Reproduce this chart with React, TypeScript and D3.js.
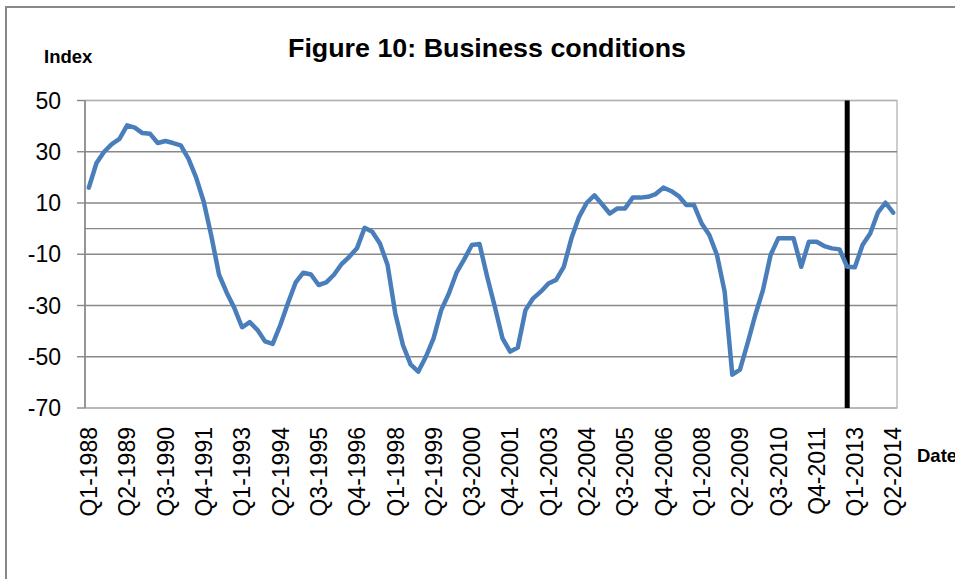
import React from "react";
import * as d3 from "d3";

const title = "Figure 10: Business conditions";
const yAxisTitle = "Index";
const xAxisTitle = "Date";

const startYear = 1988;
const quarterCount = 106;
const categories: string[] = [];
for (let i = 0; i < quarterCount; i++) {
  categories.push(`Q${(i % 4) + 1}-${startYear + Math.floor(i / 4)}`);
}

const values: number[] = [
  16, 25.6, 30, 33, 35, 40.3, 39.4, 37.3, 37, 33.4,
  34.2, 33.4, 32.5, 27.3, 20, 10.5, -3, -18, -25, -31,
  -38.5, -36.5, -39.5, -44, -45, -37.6, -29, -21, -17.2, -17.9,
  -22, -21, -18, -13.8, -11, -7.7, 0.3, -1.2, -5.8, -14.2,
  -33, -45.4, -53, -55.8, -50, -42.8, -31.8, -25.3, -17.2, -12,
  -6.4, -6, -18.8, -30.5, -42.8, -48, -46.4, -31.8, -27.2, -24.6,
  -21.4, -20, -14.9, -3.8, 4.6, 10.1, 13, 9.5, 5.9, 7.9,
  7.9, 12.1, 12.1, 12.4, 13.5, 16, 14.7, 12.7, 9.2, 9.2,
  2, -2.5, -10.3, -24.6, -57, -55, -44.7, -33.7, -24, -10.3,
  -3.8, -3.8, -3.8, -14.9, -5.1, -5.1, -6.8, -7.7, -8.1, -14.9,
  -15.1, -6.4, -1.9, 6.2, 10.1, 6.2,
];

const tickLabels: string[] = [
  "Q1-1988", "Q2-1989", "Q3-1990", "Q4-1991", "Q1-1993", "Q2-1994",
  "Q3-1995", "Q4-1996", "Q1-1998", "Q2-1999", "Q3-2000", "Q4-2001",
  "Q1-2003", "Q2-2004", "Q3-2005", "Q4-2006", "Q1-2008", "Q2-2009",
  "Q3-2010", "Q4-2011", "Q1-2013", "Q2-2014",
];

const yTicks: number[] = [50, 30, 10, -10, -30, -50, -70];
const markerCategory = "Q4-2012";

export default function App() {
  const W = 955;
  const H = 579;
  const left = 85;
  const right = 897;
  const top = 100.5;
  const bottom = 408;

  const x = d3.scaleBand<string>().domain(categories).range([left, right]).padding(0);
  const cx = (c: string) => (x(c) as number) + x.bandwidth() / 2;
  const y = d3.scaleLinear().domain([-70, 50]).range([bottom, top]);

  const line = d3
    .line<number>()
    .x((_, i) => cx(categories[i]))
    .y((d) => y(d));

  const font = "'Liberation Sans', Arial, sans-serif";

  return (
    <svg
      width={W}
      height={H}
      style={{ position: "absolute", left: 0, top: 0, display: "block", background: "#fff" }}
    >
      <rect x={6} y={7} width={1000} height={1000} fill="#fff" stroke="#888" strokeWidth={2} />
      <text
        x={487}
        y={57}
        textAnchor="middle"
        fontFamily={font}
        fontWeight="bold"
        fontSize={26}
        textLength={398}
        lengthAdjust="spacingAndGlyphs"
        fill="#000"
      >
        {title}
      </text>
      <text x={44} y={63} fontFamily={font} fontWeight="bold" fontSize={18.5} fill="#000">
        {yAxisTitle}
      </text>
      <text x={917} y={462} fontFamily={font} fontWeight="bold" fontSize={18.5} fill="#000">
        {xAxisTitle}
      </text>

      {/* plot border */}
      <rect x={left} y={top} width={right - left} height={bottom - top} fill="none" stroke="#b3b3b3" strokeWidth={1.3} />

      {/* gridlines */}
      {yTicks.map((t) => (
        <line key={"g" + t} x1={left} x2={right} y1={y(t)} y2={y(t)} stroke={t === 50 || t === -70 ? "#b3b3b3" : "#888"} strokeWidth={1.4} />
      ))}
      {/* zero axis */}
      <line x1={left} x2={right} y1={y(0)} y2={y(0)} stroke="#888" strokeWidth={1.4} />

      {/* y axis */}
      <line x1={left} x2={left} y1={top} y2={bottom} stroke="#888" strokeWidth={1.6} />
      {yTicks.map((t) => (
        <g key={"t" + t}>
          <line x1={left - 8} x2={left} y1={y(t)} y2={y(t)} stroke="#888" strokeWidth={1.4} />
          <text
            x={61}
            y={y(t)}
            dy="0.35em"
            textAnchor="end"
            fontFamily={font}
            fontSize={23}
            fill="#000"
          >
            {t}
          </text>
        </g>
      ))}

      {/* x labels */}
      {tickLabels.map((lab) => (
        <text
          key={lab}
          transform={`translate(${cx(lab)},427) rotate(-90)`}
          dy="0.36em"
          textAnchor="end"
          fontFamily={font}
          fontSize={23}
          fill="#000"
        >
          {lab}
        </text>
      ))}

      {/* marker line */}
      <line
        x1={cx(markerCategory)}
        x2={cx(markerCategory)}
        y1={top}
        y2={bottom}
        stroke="#000"
        strokeWidth={5}
      />

      <path
        d={line(values) || ""}
        fill="none"
        stroke="#4a7ebb"
        strokeWidth={4.5}
        strokeLinejoin="round"
        strokeLinecap="round"
      />
    </svg>
  );
}
